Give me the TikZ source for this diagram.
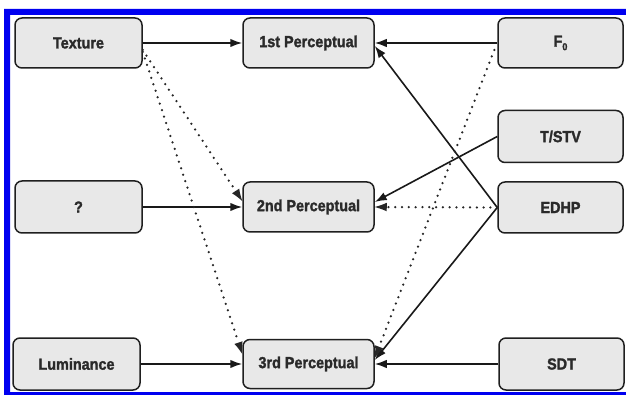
\documentclass[tikz,border=0pt]{standalone}
\usepackage{fontspec}
\setmainfont{Liberation Sans}[FakeStretch=0.9,FakeBold=1.6]
\usetikzlibrary{arrows.meta}
\definecolor{boxfill}{HTML}{E8E8E8}
\definecolor{txt}{HTML}{2A2A2A}
\definecolor{frameblue}{HTML}{0000F0}
\begin{document}
\begin{tikzpicture}[x=1pt,y=-1pt,
  box/.style={draw=black!88, line width=1.5pt, fill=boxfill, rounded corners=7pt,
    minimum width=127pt, minimum height=50pt, inner sep=0pt, text=txt,
    font=\fontsize{16}{18}\selectfont\bfseries},
  conn/.style={line width=1.6pt, draw=black!90, -{Latex[length=12pt,width=8.5pt]}},
  dotconn/.style={line width=2.5pt, draw=black!85, dash pattern=on 0pt off 6.8pt, line cap=round,
    -{Latex[length=12pt,width=8.5pt,line cap=butt,line width=0pt]}}
]
\useasboundingbox (0,0) rectangle (626,395);
\fill[white] (0,0) rectangle (626,395);
% frame
\fill[frameblue, even odd rule] (4,9) rectangle (626,395) (10,15) rectangle (626,392);
% nodes
\node[box] (tex) at (78.5,43) {Texture};
\node[box, minimum height=52pt] (q) at (78.5,207) {?};
\node[box, minimum height=52pt] (lum) at (76.5,364) {Luminance};
\node[box, minimum width=131pt] (p1) at (308.5,43) {1st Perceptual};
\node[box, minimum width=131pt] (p2) at (308.5,207) {2nd Perceptual};
\node[box, minimum width=131pt, minimum height=49pt] (p3) at (308.5,364) {3rd Perceptual};
\node[box, minimum width=125pt] (f0) at (560.5,43) {F\raisebox{-3.5pt}{\fontsize{10}{10}\selectfont 0}};
\node[box, minimum width=125pt, minimum height=52pt] (tstv) at (560.5,136.5) {T/STV};
\node[box, minimum width=125pt, minimum height=51pt] (edhp) at (560.5,207.5) {EDHP};
\node[box, minimum width=125pt, minimum height=52pt] (sdt) at (561.5,364) {SDT};
% solid connectors
\draw[conn] (tex.east) -- (p1.west);
\draw[conn] (q.east) -- (p2.west);
\draw[conn] (lum.east) -- (p3.west);
\draw[conn] (f0.west) -- (p1.east);
\draw[conn] (sdt.west) -- (p3.east);
\draw[conn] (tstv.west) -- ([yshift=5pt]p2.east);
\draw[conn] (edhp.west) -- ([yshift=-3pt]p1.east);
\draw[conn] (edhp.west) -- ([yshift=4pt]p3.east);
% dotted connectors
\draw[dotconn] ([yshift=-7pt]tex.east) -- ([yshift=6pt]p2.west);
\draw[dotconn] ([yshift=-9pt]tex.east) -- ([yshift=10pt]p3.west);
\draw[dotconn] (edhp.west) -- (p2.east);
\draw[dotconn] ([xshift=-3pt,yshift=-7pt]f0.west) -- ([yshift=6pt]p3.east);
\end{tikzpicture}
\end{document}
